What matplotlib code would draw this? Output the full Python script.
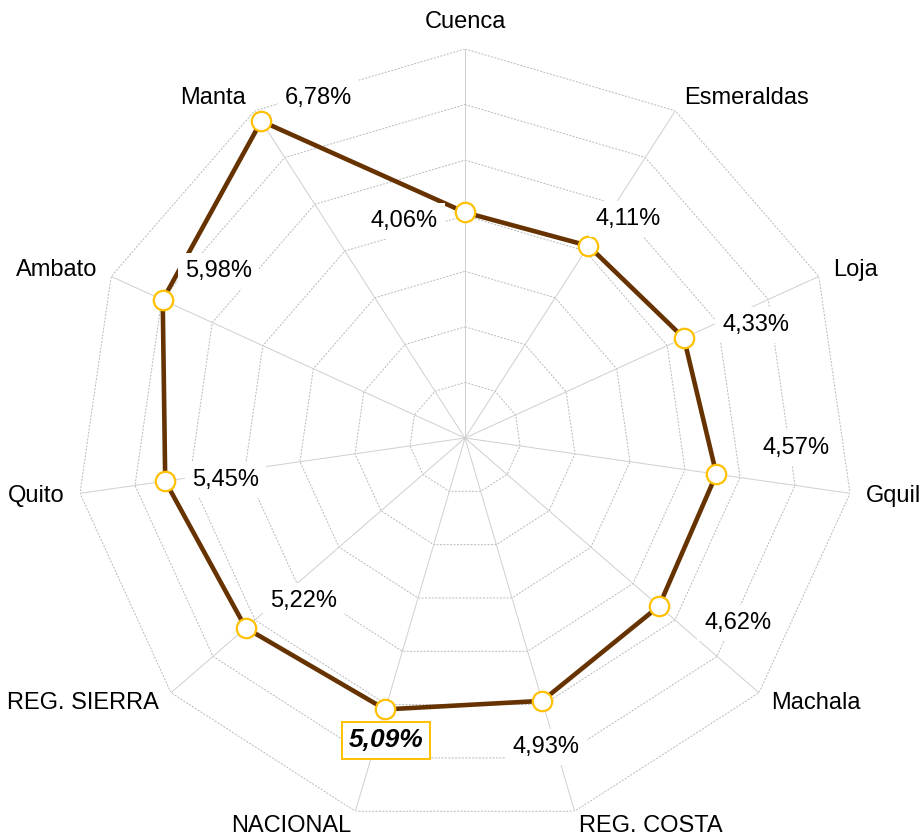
import numpy as np
import matplotlib
matplotlib.use('Agg')
import matplotlib.pyplot as plt

# Data (clockwise from top)
categories = ['Cuenca', 'Esmeraldas', 'Loja', 'Gquil', 'Machala', 'REG. COSTA',
              'NACIONAL', 'REG. SIERRA', 'Quito', 'Ambato', 'Manta']
values = [4.06, 4.11, 4.33, 4.57, 4.62, 4.93, 5.09, 5.22, 5.45, 5.98, 6.78]
value_labels = ['4,06%', '4,11%', '4,33%', '4,57%', '4,62%', '4,93%',
                '5,09%', '5,22%', '5,45%', '5,98%', '6,78%']
rings = [1, 2, 3, 4, 5, 6, 7]

# label offsets in pixels from each point
offsets = [(-61, -9), (40, 27), (72, 13), (80, 26), (79, -17), (4, -46),
           (1, -31), (58, 27), (60, 1), (56, 29), (57, 23)]

plt.rcParams['font.family'] = ['Liberation Sans', 'DejaVu Sans']

n = len(categories)
angles = np.arange(n) * 2 * np.pi / n
closed = np.append(angles, angles[0])

fig = plt.figure(figsize=(9.22, 8.39), dpi=100)
ax = fig.add_axes([76 / 922, 12 / 839, 778 / 922, 778 / 839], projection='polar')
ax.set_theta_offset(np.pi / 2)
ax.set_theta_direction(-1)
ax.set_ylim(0, 7)
ax.grid(False)
ax.spines['polar'].set_visible(False)
ax.set_xticks([])
ax.set_yticks([])
ax.patch.set_alpha(0)

# Polygon grid
for r in rings:
    ax.plot(closed, [r] * (n + 1), color='#b8b8b8', lw=0.7,
            linestyle=(0, (2, 1.5)), zorder=1)
for a in angles:
    ax.plot([a, a], [0, rings[-1]], color='#cfcfcf', lw=0.7, zorder=1)

# Series
ax.plot(closed, np.append(values, values[0]), color='#663300', lw=3.3,
        zorder=3, solid_joinstyle='miter')
ax.plot(angles, values, linestyle='none', marker='o', markersize=14,
        markerfacecolor='white', markeredgecolor='#FFC000', markeredgewidth=1.6,
        zorder=4)

# Value labels
for i, (a, v, lab) in enumerate(zip(angles, values, value_labels)):
    if categories[i] == 'NACIONAL':
        ax.annotate(lab, (a, v), xytext=offsets[i], textcoords='offset pixels',
                    ha='center', va='center', fontsize=19, fontweight='bold',
                    fontstyle='italic', zorder=5,
                    bbox=dict(boxstyle='square,pad=0.25', facecolor='white',
                              edgecolor='#FFC000', linewidth=1.4))
    else:
        ax.annotate(lab, (a, v), xytext=offsets[i], textcoords='offset pixels',
                    ha='center', va='center', fontsize=17, zorder=5,
                    bbox=dict(boxstyle='square,pad=0.3', facecolor='white',
                              edgecolor='none'))

# Category labels
label_r = 7.28
for a, cat in zip(angles, categories):
    s = np.sin(a)
    if s > 0.2:
        ha = 'left'
    elif s < -0.2:
        ha = 'right'
    else:
        ha = 'center'
    va = 'bottom' if np.cos(a) > 0.95 else 'center'
    ax.text(a, label_r, cat, ha=ha, va=va, fontsize=17, color='black',
            clip_on=False)

fig.savefig('out.png', dpi=100, facecolor='white')
